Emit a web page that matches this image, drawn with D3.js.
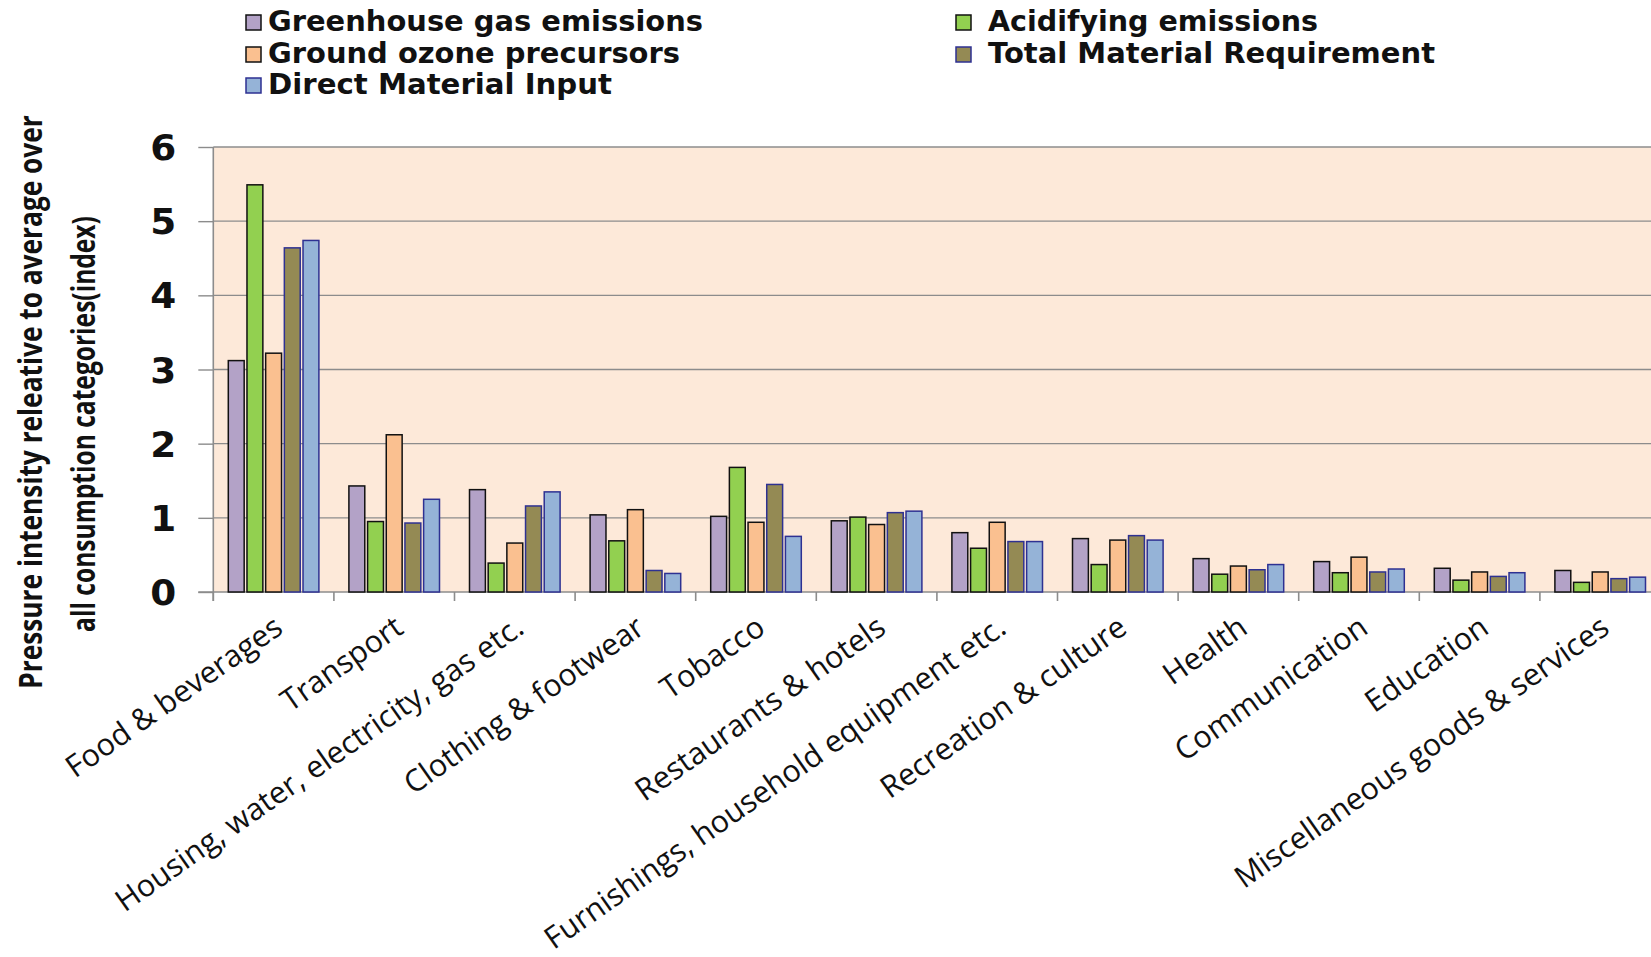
<!DOCTYPE html>
<html>
<head>
<meta charset="utf-8">
<script src="https://cdn.jsdelivr.net/npm/d3@7"></script>
<style>
  html, body { margin: 0; padding: 0; background: #ffffff; }
  svg { display: block; }
</style>
</head>
<body>
<svg id="chart" width="1651" height="957"></svg>
<script>
// Consumption categories along the x axis
const categories = [
  "Food & beverages",
  "Transport",
  "Housing, water, electricity, gas etc.",
  "Clothing & footwear",
  "Tobacco",
  "Restaurants & hotels",
  "Furnishings, household equipment etc.",
  "Recreation & culture",
  "Health",
  "Communication",
  "Education",
  "Miscellaneous goods & services"
];

// Pressure intensity index per category, one array per pressure type
const greenhouseGas = [3.12, 1.43, 1.38, 1.04, 1.02, 0.96, 0.80, 0.72, 0.45, 0.41, 0.32, 0.29];
const acidifying    = [5.49, 0.95, 0.39, 0.69, 1.68, 1.01, 0.59, 0.37, 0.24, 0.26, 0.16, 0.13];
const groundOzone   = [3.22, 2.12, 0.66, 1.11, 0.94, 0.91, 0.94, 0.70, 0.35, 0.47, 0.27, 0.27];
const totalMaterial = [4.64, 0.93, 1.16, 0.29, 1.45, 1.07, 0.68, 0.76, 0.30, 0.27, 0.21, 0.18];
const directMaterial= [4.74, 1.25, 1.35, 0.25, 0.75, 1.09, 0.68, 0.70, 0.37, 0.31, 0.26, 0.20];

const seriesNames = [
  "Greenhouse gas emissions",
  "Acidifying emissions",
  "Ground ozone precursors",
  "Total Material Requirement",
  "Direct Material Input"
];
const seriesValues = [greenhouseGas, acidifying, groundOzone, totalMaterial, directMaterial];

const yTicks = [0, 1, 2, 3, 4, 5, 6];

const yTitleLines = [
  "Pressure intensity releative to average over",
  "all consumption categories(index)"
];

// Styling
const fills   = ["#B3A2C7", "#92D050", "#FAC090", "#948A54", "#95B3D7"];
const strokes = ["#111111", "#111111", "#111111", "#2E3192", "#2E3192"];

const svg = d3.select("#chart");

const plot = { left: 213.3, top: 147, bottom: 592, step: 120.6 };
plot.right = plot.left + plot.step * categories.length;

const y = d3.scaleLinear().domain([0, 6]).range([plot.bottom, plot.top]);
const x0 = d3.scaleBand().domain(categories).range([plot.left, plot.right]).padding(0);
const x1 = d3.scaleBand().domain(seriesNames)
  .range([15, x0.bandwidth() - 15]).paddingInner(0.15).paddingOuter(0);

// Plot background
svg.append("rect")
  .attr("x", plot.left).attr("y", plot.top)
  .attr("width", plot.right - plot.left).attr("height", plot.bottom - plot.top)
  .attr("fill", "#FDE9D9");

// Horizontal gridlines
svg.append("g")
  .selectAll("line")
  .data(yTicks.filter(t => t > 0))
  .join("line")
  .attr("x1", plot.left).attr("x2", plot.right)
  .attr("y1", d => y(d)).attr("y2", d => y(d))
  .attr("stroke", "#8C8C8C").attr("stroke-width", 1.4);

// Y axis
const yAxis = svg.append("g")
  .attr("transform", `translate(${plot.left},0)`)
  .call(d3.axisLeft(y).tickValues(yTicks).tickSize(15).tickPadding(22).tickFormat(d3.format("d")));
yAxis.select(".domain").attr("stroke", "#8C8C8C").attr("stroke-width", 1.6)
  .attr("d", `M0,${plot.top}V${plot.bottom + 9}`);
yAxis.selectAll(".tick line").attr("stroke", "#8C8C8C").attr("stroke-width", 1.4);
yAxis.selectAll(".tick text")
  .attr("font-family", "'DejaVu Sans', Verdana, sans-serif")
  .attr("font-weight", "bold")
  .attr("font-size", 35)
  .attr("textLength", 26)
  .attr("lengthAdjust", "spacingAndGlyphs")
  .attr("fill", "#111")
  .attr("dy", "0.36em");

// X axis line with category boundary ticks
const xAxis = svg.append("g");
xAxis.append("line")
  .attr("x1", plot.left - 15).attr("x2", plot.right)
  .attr("y1", plot.bottom).attr("y2", plot.bottom)
  .attr("stroke", "#8C8C8C").attr("stroke-width", 1.6);
xAxis.selectAll("line.cat")
  .data(categories)
  .join("line")
  .attr("class", "cat")
  .attr("x1", d => x0(d)).attr("x2", d => x0(d))
  .attr("y1", plot.bottom).attr("y2", plot.bottom + 9)
  .attr("stroke", "#8C8C8C").attr("stroke-width", 1.6);

// Category labels, rotated
xAxis.selectAll("text.cat")
  .data(categories)
  .join("text")
  .attr("class", "cat")
  .attr("transform", d => `translate(${x0(d) + x0.bandwidth() / 2 + 11},${plot.bottom + 40}) rotate(-35)`)
  .attr("text-anchor", "end")
  .attr("font-family", "'Open Sans', sans-serif")
  .attr("font-size", 30.6)
  .attr("fill", "#111")
  .text(d => d);

// Bars
const groups = svg.append("g")
  .selectAll("g")
  .data(categories)
  .join("g")
  .attr("transform", d => `translate(${x0(d)},0)`);

groups.selectAll("rect")
  .data((c, ci) => seriesNames.map((s, si) => ({ series: s, si, value: seriesValues[si][ci] })))
  .join("rect")
  .attr("x", d => x1(d.series))
  .attr("y", d => y(d.value))
  .attr("width", x1.bandwidth())
  .attr("height", d => y(0) - y(d.value))
  .attr("fill", d => fills[d.si])
  .attr("stroke", d => strokes[d.si])
  .attr("stroke-width", 1.5);

// Y axis title: two rotated lines, squeezed along the baseline to a condensed look
const yTitle = svg.append("g");
const titleX = [42, 95];
const titleCenter = [402, 424];
const titleLen = [574, 416];
yTitleLines.forEach((line, i) => {
  const t = yTitle.append("text")
    .attr("text-anchor", "middle")
    .attr("font-family", "'Open Sans', sans-serif")
    .attr("font-weight", "bold")
    .attr("font-size", 32)
    .attr("fill", "#111")
    .text(line);
  const natural = t.node().getComputedTextLength() || titleLen[i];
  const sx = titleLen[i] / natural;
  t.attr("transform", `translate(${titleX[i]},${titleCenter[i]}) rotate(-90) scale(${sx},1)`);
});

// Legend
const legendPos = [
  { mx: 246, tx: 268, base: 31, len: 435 },
  { mx: 956, tx: 988, base: 31, len: 330 },
  { mx: 246, tx: 268, base: 63, len: 412 },
  { mx: 956, tx: 988, base: 63, len: 447 },
  { mx: 246, tx: 268, base: 94, len: 344 }
];
const legend = svg.append("g")
  .selectAll("g")
  .data(seriesNames)
  .join("g");
legend.append("rect")
  .attr("x", (d, i) => legendPos[i].mx)
  .attr("y", (d, i) => legendPos[i].base - 16)
  .attr("width", 15).attr("height", 15)
  .attr("fill", (d, i) => fills[i])
  .attr("stroke", (d, i) => strokes[i])
  .attr("stroke-width", 1.5);
legend.append("text")
  .attr("x", (d, i) => legendPos[i].tx)
  .attr("y", (d, i) => legendPos[i].base)
  .attr("font-family", "'DejaVu Sans', Verdana, sans-serif")
  .attr("font-weight", "bold")
  .attr("font-size", 29)
  .attr("textLength", (d, i) => legendPos[i].len)
  .attr("lengthAdjust", "spacingAndGlyphs")
  .attr("fill", "#111")
  .text(d => d);
</script>
</body>
</html>
